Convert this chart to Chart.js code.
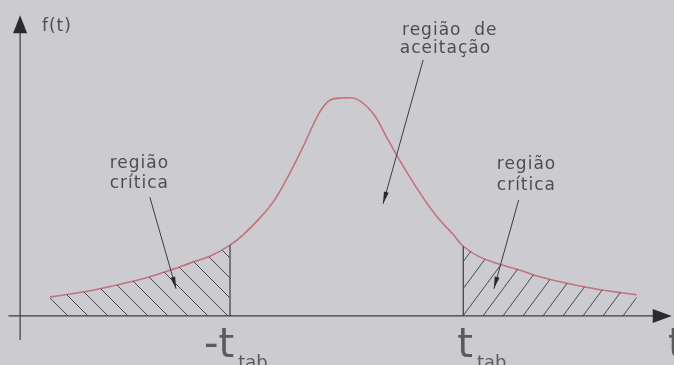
<!DOCTYPE html>
<html>
<head>
<meta charset="utf-8">
<script src="https://cdn.jsdelivr.net/npm/chart.js@4"></script>
<style>
  html, body { margin:0; padding:0; background:#cbcbd0; }
  #wrap { width:674px; height:365px; position:relative; }
</style>
</head>
<body>
<div id="wrap"><canvas id="tgraph"></canvas></div>
<script>
// curve f(t)
var tVals = [-4.02,-3.57,-3.10,-2.65,-2.33,-2.10,-1.82,-1.55,-1.37,-1.14,-0.96,-0.77,-0.55,-0.32,-0.18,0,0.19,0.41,0.60,0.75,1.06,1.29,1.51,1.65,1.88,2.15,2.43,2.70,3.07,3.53,4.03];
var fVals = [0.035,0.044,0.057,0.072,0.086,0.097,0.110,0.130,0.149,0.180,0.209,0.252,0.310,0.374,0.396,0.400,0.398,0.372,0.328,0.292,0.225,0.182,0.150,0.128,0.108,0.095,0.084,0.072,0.060,0.048,0.039];
// critical values (-t_tab, t_tab)
var critT = [-1.55, 1.65];
var critLabels = ['-t', 't'];
var critSub = 'tab';

var curve = tVals.map(function(t,i){ return {x:t, y:fVals[i]}; });
var leftTail = curve.filter(function(p){ return p.x <= critT[0]; });
var rightTail = curve.filter(function(p){ return p.x >= critT[1]; });
function fAt(t){ var i = tVals.indexOf(t); return fVals[i]; }

function hatch(w, h, dir, shift){
  var c = document.createElement('canvas');
  c.width = w; c.height = h;
  var g = c.getContext('2d');
  g.strokeStyle = '#4a4a4e';
  g.lineWidth = 1;
  for (var k=-1;k<=1;k++){
    g.beginPath();
    if (dir === 'back'){ g.moveTo(shift+k*w, 0); g.lineTo(shift+k*w+w, h); }
    else { g.moveTo(shift+k*w, h); g.lineTo(shift+k*w+w, 0); }
    g.stroke();
  }
  return g.createPattern(c, 'repeat');
}
var leftPat = hatch(20, 20, 'back', 12);
var rightPat = hatch(20, 27, 'fwd', -3);

var txt = '#4d4d52';
function arrowHead(ctx, x1, y1, x2, y2, len, half){
  var a = Math.atan2(y2-y1, x2-x1);
  ctx.beginPath();
  ctx.moveTo(x2, y2);
  ctx.lineTo(x2 - len*Math.cos(a) + half*Math.sin(a), y2 - len*Math.sin(a) - half*Math.cos(a));
  ctx.lineTo(x2 - len*Math.cos(a) - half*Math.sin(a), y2 - len*Math.sin(a) + half*Math.cos(a));
  ctx.closePath();
  ctx.fill();
}

var decor = {
  id:'decor',
  beforeDraw:function(chart){
    var ctx = chart.ctx;
    ctx.save();
    ctx.fillStyle = '#cbcbd0';
    ctx.fillRect(0,0,chart.width,chart.height);
    ctx.restore();
  },
  afterDatasetsDraw:function(chart){
    var ctx = chart.ctx, xs = chart.scales.x, ys = chart.scales.y;
    function X(v){ return xs.getPixelForValue(v); }
    function Y(v){ return ys.getPixelForValue(v); }
    ctx.save();
    ctx.strokeStyle = '#3c3c40';
    ctx.fillStyle = '#2a2a2e';
    ctx.lineWidth = 1.2;
    // axes
    ctx.beginPath();
    ctx.moveTo(X(-4.59), Y(0)); ctx.lineTo(X(4.3), Y(0));
    ctx.moveTo(X(-4.43), Y(-0.044)); ctx.lineTo(X(-4.43), Y(0.52));
    ctx.stroke();
    arrowHead(ctx, X(4.0), Y(0), X(4.51), Y(0), 19, 7);
    arrowHead(ctx, X(-4.43), Y(0.3), X(-4.43), Y(0.552), 18, 7);
    // leader arrows
    ctx.lineWidth = 1;
    var leaders = [[1.10,0.470,0.55,0.206],[-2.65,0.218,-2.29,0.050],[2.41,0.213,2.07,0.050]];
    leaders.forEach(function(l){
      ctx.beginPath(); ctx.moveTo(X(l[0]),Y(l[1])); ctx.lineTo(X(l[2]),Y(l[3])); ctx.stroke();
      arrowHead(ctx, X(l[0]),Y(l[1]), X(l[2]),Y(l[3]), 12, 2.5);
    });
    // texts
    ctx.fillStyle = txt;
    ctx.textBaseline = 'alphabetic';
    ctx.textAlign = 'left';
    ctx.font = '17px "DejaVu Sans"';
    ctx.letterSpacing = '1px';
    ctx.fillText('f(t)', X(-4.13), Y(0.523));
    ctx.fillText('região  de', X(0.81), Y(0.516));
    ctx.fillText('aceitação', X(0.78), Y(0.483));
    ctx.fillText('região', X(-3.20), Y(0.272));
    ctx.fillText('crítica', X(-3.20), Y(0.235));
    ctx.fillText('região', X(2.11), Y(0.270));
    ctx.fillText('crítica', X(2.11), Y(0.231));
    ctx.letterSpacing = '0px';
    // critical value labels
    ctx.fillStyle = '#5a5a5f';
    critT.forEach(function(t,i){
      ctx.font = '40px "DejaVu Sans"';
      var lab = critLabels[i];
      var x0 = i === 0 ? X(t) - 26 : X(t) - 6;
      ctx.fillText(lab, x0, Y(-0.075));
      var w = ctx.measureText(lab).width;
      ctx.font = '18px "DejaVu Sans"';
      ctx.fillText(critSub, x0 + w + 4, Y(-0.095));
    });
    ctx.font = '40px "DejaVu Sans"';
    ctx.fillText('t', X(4.46), Y(-0.075));
    ctx.restore();
  }
};

var ctx = document.getElementById('tgraph').getContext('2d');
var chart = new Chart(ctx, {
  type:'line',
  data:{
    datasets:[
      { data:leftTail, fill:'origin', backgroundColor:leftPat, borderWidth:0, pointRadius:0, tension:0.4 },
      { data:rightTail, fill:'origin', backgroundColor:rightPat, borderWidth:0, pointRadius:0, tension:0.4 },
      { data:[{x:critT[0],y:0},{x:critT[0],y:fAt(critT[0])}], borderColor:'#3c3c40', borderWidth:1.2, pointRadius:0, fill:false },
      { data:[{x:critT[1],y:0},{x:critT[1],y:fAt(critT[1])}], borderColor:'#3c3c40', borderWidth:1.2, pointRadius:0, fill:false },
      { data:curve, borderColor:'#c4727c', borderWidth:1.6, pointRadius:0, fill:false, tension:0.4 }
    ]
  },
  options:{
    responsive:true,
    maintainAspectRatio:false,
    animation:false,
    layout:{ padding:{ left:15, right:3, top:0, bottom:0 } },
    plugins:{ legend:{ display:false }, tooltip:{ enabled:false } },
    scales:{
      x:{ type:'linear', min:-4.5, max:4.5, display:false },
      y:{ min:-0.09, max:0.58, display:false }
    }
  },
  plugins:[decor]
});
</script>
</body>
</html>
